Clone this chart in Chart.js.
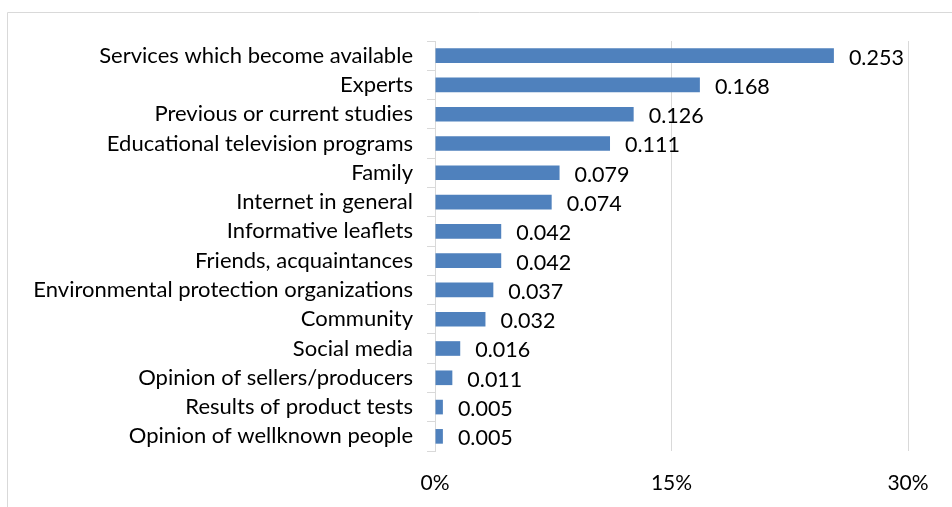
<!DOCTYPE html>
<html>
<head>
<meta charset="utf-8">
<script src="https://cdn.jsdelivr.net/npm/chart.js@4/dist/chart.umd.min.js"></script>
<style>
    html, body { margin: 0; padding: 0; background: #fff; }
    #wrap { position: relative; width: 952px; height: 507px; }
</style>
</head>
<body>
<div id="wrap"><canvas id="sourcesChart"></canvas></div>
<script>
// Sources of information, share of respondents
const categories = [
    'Services which become available',
    'Experts',
    'Previous or current studies',
    'Educational television programs',
    'Family',
    'Internet in general',
    'Informative leaflets',
    'Friends, acquaintances',
    'Environmental protection organizations',
    'Community',
    'Social media',
    'Opinion of sellers/producers',
    'Results of product tests',
    'Opinion of wellknown people'
];
const shares = [0.253, 0.168, 0.126, 0.111, 0.079, 0.074, 0.042, 0.042, 0.037, 0.032, 0.016, 0.011, 0.005, 0.005];
const tickValues = [0, 0.15, 0.30];
const tickLabels = ['0%', '15%', '30%'];

const FONT = 'Lato, "Open Sans", sans-serif';

/**
 * Light frame around the whole chart
 */
const framePlugin = {
    id: 'frame',
    beforeDraw: function(chart) {
        const c = chart.ctx;
        c.save();
        c.strokeStyle = '#d9d9d9';
        c.lineWidth = 1;
        c.beginPath();
        c.moveTo(7.5, chart.height);
        c.lineTo(7.5, 12.5);
        c.lineTo(chart.width, 12.5);
        c.stroke();
        c.restore();
    }
};

/**
 * Value labels to the right of each bar
 */
const valueLabels = {
    id: 'valueLabels',
    afterDatasetsDraw: function(chart) {
        const c = chart.ctx;
        const meta = chart.getDatasetMeta(0);
        c.save();
        c.font = '21.5px ' + FONT;
        c.fillStyle = '#000';
        c.textAlign = 'left';
        c.textBaseline = 'middle';
        meta.data.forEach(function(bar, i) {
            c.fillText(shares[i].toFixed(3), bar.x + 15, bar.y + 2);
        });
        c.restore();
    }
};

function createSourcesChart() {
    const ctx = document.getElementById('sourcesChart');
    if (!ctx) return;

    new Chart(ctx, {
        type: 'bar',
        data: {
            labels: categories,
            datasets: [{
                data: shares,
                backgroundColor: '#4f81bd',
                borderWidth: 0,
                categoryPercentage: 1,
                barPercentage: 0.5
            }]
        },
        options: {
            indexAxis: 'y',
            responsive: true,
            maintainAspectRatio: false,
            animation: false,
            layout: {
                padding: { top: 41, right: 44, bottom: 0, left: 0 }
            },
            plugins: {
                legend: { display: false },
                tooltip: { enabled: false }
            },
            scales: {
                x: {
                    min: 0,
                    max: 0.30,
                    afterBuildTicks: function(axis) {
                        axis.ticks = tickValues.map(function(v) { return { value: v }; });
                    },
                    afterFit: function(axis) {
                        axis.height = 56;
                    },
                    grid: {
                        color: '#d9d9d9',
                        lineWidth: 1,
                        drawTicks: false
                    },
                    border: { display: false },
                    ticks: {
                        padding: 20,
                        color: '#000',
                        font: { family: FONT, size: 21 },
                        callback: function(value) {
                            const idx = tickValues.indexOf(value);
                            return idx >= 0 ? tickLabels[idx] : '';
                        }
                    }
                },
                y: {
                    afterFit: function(axis) {
                        axis.width = 435;
                    },
                    grid: {
                        offset: true,
                        drawOnChartArea: false,
                        tickLength: 8,
                        color: '#d9d9d9'
                    },
                    border: { color: '#d9d9d9' },
                    ticks: {
                        autoSkip: false,
                        padding: 14,
                        color: '#000',
                        font: { family: FONT, size: 22 }
                    }
                }
            }
        },
        plugins: [framePlugin, valueLabels]
    });
}

createSourcesChart();
</script>
</body>
</html>
